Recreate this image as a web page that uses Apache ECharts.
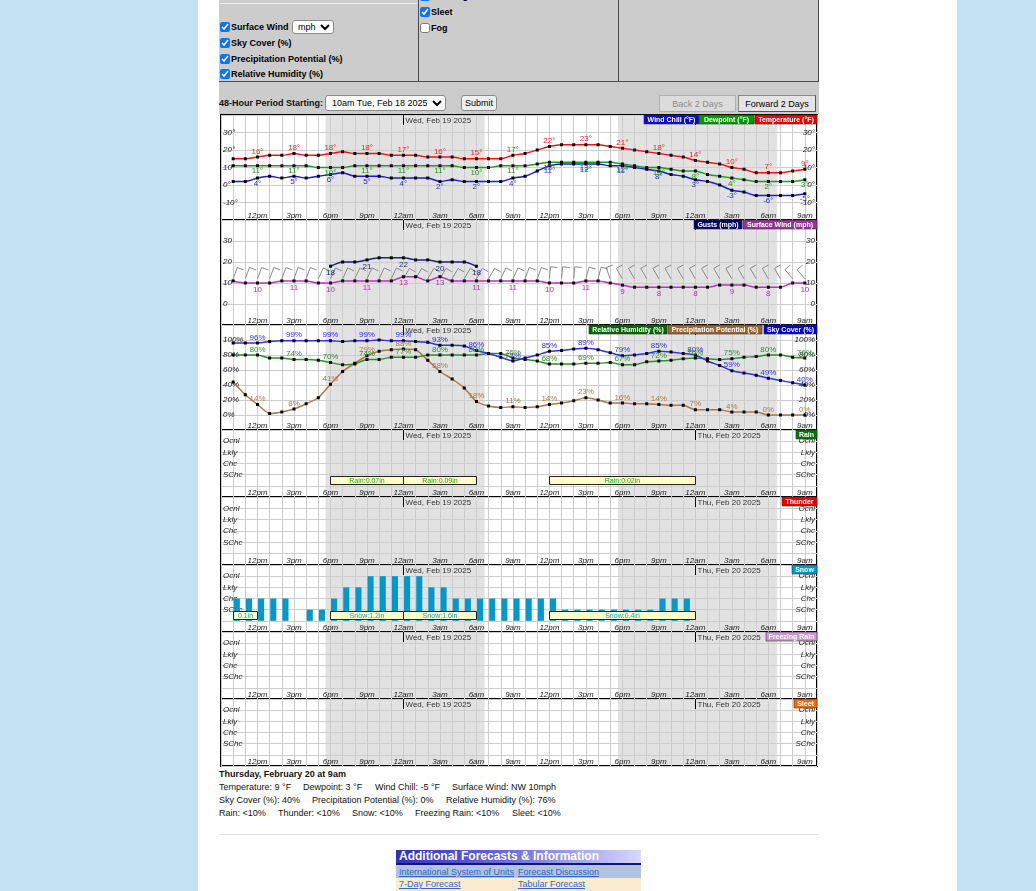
<!DOCTYPE html>
<html><head><meta charset="utf-8">
<script src="https://cdn.jsdelivr.net/npm/echarts/dist/echarts.min.js"></script>
<style>
html,body{margin:0;padding:0;}
body{width:1036px;height:891px;background:#c4e2f2;position:relative;overflow:hidden;font-family:"Liberation Sans",Arial,Helvetica,sans-serif;color:#000;}
.abs{position:absolute;}
.cb{position:absolute;height:12px;display:flex;align-items:center;font-weight:bold;font-size:9px;white-space:nowrap;}
.cb input{width:10px;height:10px;margin:0 1px 0 0;}
.t9{position:absolute;font-size:9px;line-height:12px;white-space:nowrap;color:#111;}
.lnk{position:absolute;font-size:9px;line-height:12px;color:#3366cc;text-decoration:underline;white-space:nowrap;}
.btn{position:absolute;box-sizing:border-box;font-size:9px;display:flex;align-items:center;justify-content:center;}
</style></head>
<body>
<div class="abs" style="left:198px;top:0;width:759px;height:891px;background:#fff"></div>
<!-- form area -->
<div class="abs" style="left:219px;top:0;width:600px;height:115px;background:#cccccc"></div>
<div class="abs" style="left:220px;top:3px;width:197px;height:1px;background:#eeeeee"></div>
<div class="abs" style="left:219px;top:81px;width:600px;height:1px;background:#4a4a4a"></div>
<div class="abs" style="left:418px;top:0;width:1px;height:81px;background:#4a4a4a"></div>
<div class="abs" style="left:618px;top:0;width:1px;height:81px;background:#4a4a4a"></div>
<div class="abs" style="left:818px;top:0;width:1px;height:82px;background:#4a4a4a"></div>

<label class="cb" style="left:420px;top:-10px"><input type="checkbox" checked><span>Freezing Rain</span></label>
<label class="cb" style="left:420px;top:6px"><input type="checkbox" checked><span>Sleet</span></label>
<label class="cb" style="left:420px;top:22px"><input type="checkbox"><span>Fog</span></label>

<label class="cb" style="left:220px;top:21px"><input type="checkbox" checked><span>Surface Wind</span></label>
<select class="abs" style="left:292px;top:20px;width:42px;height:14px;font-size:9px;padding:0 1px;border:1px solid #8a8a8a;border-radius:3px;background:#fff"><option>mph</option></select>
<label class="cb" style="left:220px;top:37px"><input type="checkbox" checked><span>Sky Cover (%)</span></label>
<label class="cb" style="left:220px;top:53px"><input type="checkbox" checked><span>Precipitation Potential (%)</span></label>
<label class="cb" style="left:220px;top:68px"><input type="checkbox" checked><span>Relative Humidity (%)</span></label>

<div class="t9" style="left:219px;top:97px;font-weight:bold">48-Hour Period Starting:</div>
<select class="abs" style="left:325px;top:95px;width:121px;height:16px;font-size:9px;padding:0 2px;border:1px solid #8a8a8a;border-radius:3px;background:#fff"><option>10am Tue, Feb 18 2025</option></select>
<div class="btn" style="left:461px;top:95px;width:36px;height:16px;border:1px solid #8a8a8a;border-radius:3px;background:#efefef">Submit</div>
<div class="btn" style="left:659px;top:95px;width:77px;height:17px;border:1px solid #b0b0b0;background:#dcdcdc;color:#8c8c8c">Back 2 Days</div>
<div class="btn" style="left:738px;top:95px;width:78px;height:17px;border:1px solid #8a8a8a;border-right-color:#555;border-bottom-color:#555;background:#e4e4e4;color:#000">Forward 2 Days</div>

<div id="chart" class="abs" style="left:218px;top:114px;width:602px;height:654px"></div>

<!-- bottom text -->
<div class="t9" style="left:219px;top:768px;font-weight:bold">Thursday, February 20 at 9am</div>
<div class="t9" style="left:219px;top:781px">Temperature: 9 °F</div>
<div class="t9" style="left:303px;top:781px">Dewpoint: 3 °F</div>
<div class="t9" style="left:375px;top:781px">Wind Chill: -5 °F</div>
<div class="t9" style="left:452px;top:781px">Surface Wind: NW 10mph</div>
<div class="t9" style="left:219px;top:794px">Sky Cover (%): 40%</div>
<div class="t9" style="left:312px;top:794px">Precipitation Potential (%): 0%</div>
<div class="t9" style="left:446px;top:794px">Relative Humidity (%): 76%</div>
<div class="t9" style="left:219px;top:807px">Rain: &lt;10%</div>
<div class="t9" style="left:278px;top:807px">Thunder: &lt;10%</div>
<div class="t9" style="left:352px;top:807px">Snow: &lt;10%</div>
<div class="t9" style="left:415px;top:807px">Freezing Rain: &lt;10%</div>
<div class="t9" style="left:512px;top:807px">Sleet: &lt;10%</div>
<div class="abs" style="left:219px;top:834px;width:600px;height:1px;background:#e2e2e2"></div>

<div class="abs" style="left:396px;top:850px;width:242px;height:13px;padding-left:3px;background:linear-gradient(to right,#3030b8 0%,#6a6ae0 45%,#d8d8ff 100%);color:#fff;font-weight:bold;font-size:12px;line-height:13px;white-space:nowrap">Additional Forecasts &amp; Information</div>
<div class="abs" style="left:396px;top:863px;width:245px;height:2px;background:#14147a"></div>
<div class="abs" style="left:396px;top:865px;width:245px;height:13px;background:#b0c4de"></div>
<div class="abs" style="left:396px;top:878px;width:245px;height:13px;background:#fdebd0"></div>
<div class="lnk" style="left:399px;top:866px">International System of Units</div>
<div class="lnk" style="left:518px;top:866px">Forecast Discussion</div>
<div class="lnk" style="left:399px;top:878px">7-Day Forecast</div>
<div class="lnk" style="left:518px;top:878px">Tabular Forecast</div>

<script>
const FONT = '"Liberation Sans", Arial, Helvetica, sans-serif';

// hour index 0 = 10am Tue Feb 18 2025, 48 hourly points
const xTickLabels = ['12pm','3pm','6pm','9pm','12am','3am','6am','9am','12pm','3pm','6pm','9pm','12am','3am','6am','9am'];
const dayMarkHours = [14, 38];
const dayMarkLabels = ['Wed, Feb 19 2025', 'Thu, Feb 20 2025'];
const nightStart = [7.6, 31.64];
const nightEnd = [20.68, 44.72];

const temperature = [15,15,16,17,17,18,17,17,18,19,18,18,18,17,17,17,16,16,16,15,15,15,15,17,
                     18,20,22,23,23,23,23,22,21,20,19,18,17,16,14,13,12,10,9,7,7,7,8,9];
const dewpoint    = [11,11,11,11,11,11,11,10,10,10,11,11,11,11,11,11,11,11,11,10,10,10,11,11,
                     11,12,13,13,13,13,13,13,12,11,10,10,9,8,8,6,5,4,3,2,2,2,2,3];
const windChill   = [2,2,4,5,4,5,4,5,6,7,5,5,5,4,4,4,4,2,3,2,2,2,2,4,
                     5,8,11,12,12,12,12,11,11,10,9,8,6,5,3,2,0,-3,-4,-6,-6,-6,-6,-5];

const surfaceWind = [11,10,10,10,11,11,11,10,10,11,11,11,11,11,13,13,11,13,11,11,11,11,11,11,
                     11,11,10,10,10,11,11,10,9,8,8,8,8,8,8,8,9,9,9,8,8,8,10,10];
const gustHours   = [8,9,10,11,12,13,14,15,16,17,18,19,20];
const windGust    = [18,20,20,21,22,22,22,21,21,20,20,20,18];
const windDir     = [20,20,20,20,20,20,20,25,25,25,25,25,25,25,30,30,30,30,30,30,30,30,25,25,
                     20,20,5,5,5,15,15,340,330,330,330,330,330,330,330,330,330,330,330,330,330,330,320,320];

const skyCover        = [96,96,96,98,99,99,99,99,99,98,99,99,100,99,99,98,97,93,93,92,86,82,77,72,
                         76,80,85,86,88,89,87,83,79,80,82,85,84,82,80,72,66,59,56,53,49,46,43,40];
const precipPotential = [44,27,14,2,4,8,15,23,41,58,69,79,85,87,88,87,73,58,48,36,18,12,10,11,
                         10,11,14,16,19,23,20,16,16,15,15,14,13,13,7,7,7,4,4,4,0,0,0,0];
const relHumidity     = [80,80,80,76,76,74,74,73,70,67,68,74,74,77,77,77,80,80,80,80,80,82,82,76,
                         74,72,68,68,68,69,69,70,67,67,71,72,73,75,76,75,74,75,77,78,80,80,77,76];

// 2 = SChc, 3 = Chc, 4 = Lkly, 5 = Ocnl ; 0 = no bar
const snowLevel = [3,3,3,3,3,0,2,2,3,4,4,5,5,5,5,5,4,4,3,3,3,3,3,3,
                   3,3,3,2,2,2,2,2,2,2,2,3,3,3,0,0,0,0,0,0,0,0,0,0];
const rainTotalFrom = [8,14,26], rainTotalTo = [14,20,38];
const rainTotalText = ['Rain:0.07in','Rain:0.09in','Rain:0.02in'];
const snowTotalFrom = [0,8,14,26], snowTotalTo = [2,14,20,38];
const snowTotalText = ['0.1in','Snow:1.2in','Snow:1.6in','Snow:0.4in'];

const tempTickValues = [-10,0,10,20,30], tempTickLabels = ['-10°','0°','10°','20°','30°'];
const windTickValues = [0,10,20,30], windTickLabels = ['0','10','20','30'];
const pctTickValues = [0,20,40,60,80,100], pctTickLabels = ['0%','20%','40%','60%','80%','100%'];
const levelTickValues = [2,3,4,5], levelTickLabels = ['SChc','Chc','Lkly','Ocnl'];

const panels = [
  {top:1,   height:105, min:-20, max:40,  interval:10, tv:tempTickValues,  tl:tempTickLabels},
  {top:106, height:105, min:-10, max:40,  interval:10, tv:windTickValues,  tl:windTickLabels},
  {top:211, height:105, min:-20, max:120, interval:20, tv:pctTickValues,   tl:pctTickLabels},
  {top:316, height:67,  min:0, max:6, interval:1, tv:levelTickValues, tl:levelTickLabels},
  {top:383, height:68,  min:0, max:6, interval:1, tv:levelTickValues, tl:levelTickLabels},
  {top:451, height:67,  min:0, max:6, interval:1, tv:levelTickValues, tl:levelTickLabels},
  {top:518, height:67,  min:0, max:6, interval:1, tv:levelTickValues, tl:levelTickLabels},
  {top:585, height:67,  min:0, max:6, interval:1, tv:levelTickValues, tl:levelTickLabels}
];

const GRID_COLOR = '#cdcdcd';
const grids = [], xAxes = [], yAxes = [], series = [];
panels.forEach((p, k) => {
  grids.push({left:1, width:599, top:p.top, height:p.height, show:true, borderColor:'#000', borderWidth:2, backgroundColor:'transparent'});
  xAxes.push({gridIndex:k, type:'value', min:-1, max:48, interval:1,
    axisLine:{show:false}, axisTick:{show:false},
    splitLine:{show:true, lineStyle:{color:GRID_COLOR, width:1}},
    axisLabel:{inside:true, margin:0, fontSize:8, fontStyle:'italic', color:'#222', fontFamily:FONT,
      formatter: v => (v >= 2 && (v - 2) % 3 === 0) ? (xTickLabels[(v - 2) / 3] || '') : ''}});
  const fmt = v => { const j = p.tv.indexOf(v); return j >= 0 ? p.tl[j] : ''; };
  const labelStyle = {inside:true, margin:2, fontSize:8, fontStyle:'italic', color:'#222', fontFamily:FONT, formatter:fmt};
  yAxes.push({gridIndex:k, type:'value', min:p.min, max:p.max, interval:p.interval, position:'left',
    axisLine:{show:false}, axisTick:{show:false},
    splitLine:{show:true, lineStyle:{color:GRID_COLOR, width:1}}, axisLabel:labelStyle});
  yAxes.push({gridIndex:k, type:'value', min:p.min, max:p.max, interval:p.interval, position:'right',
    axisLine:{show:false}, axisTick:{show:false}, splitLine:{show:false}, axisLabel:labelStyle});

  // night shading
  series.push({type:'custom', xAxisIndex:k, yAxisIndex:2*k, silent:true, z:-1,
    data: nightStart.map((s, j) => [s, nightEnd[j]]), encode:{x:[0,1]},
    renderItem:(params, api) => {
      const a = api.coord([api.value(0), p.min]), b = api.coord([api.value(1), p.min]);
      const cs = params.coordSys;
      return {type:'rect', shape:{x:a[0], y:cs.y, width:b[0]-a[0], height:cs.height}, style:{fill:'#e2e2e2'}};
    }});
  // day headers
  series.push({type:'custom', xAxisIndex:k, yAxisIndex:2*k, silent:true, z:4,
    data: dayMarkHours.map((h, j) => [h, j]), encode:{x:0},
    renderItem:(params, api) => {
      const a = api.coord([api.value(0), p.min]);
      const cs = params.coordSys;
      const x = Math.round(a[0]) + 0.5;
      return {type:'group', children:[
        {type:'line', shape:{x1:x, y1:cs.y, x2:x, y2:cs.y+10}, style:{stroke:'#000', lineWidth:1}},
        {type:'text', x:x+2, y:cs.y+5.5, style:{text:dayMarkLabels[api.value(1)], fill:'#333', font:'8px '+FONT, align:'left', verticalAlign:'middle'}}
      ]};
    }});
});

function lineSeries(k, hoursArr, values, color, labelPos, suffix, labelColor, dist) {
  return {type:'line', xAxisIndex:k, yAxisIndex:2*k, data: values.map((v, i) => [hoursArr ? hoursArr[i] : i, v]),
    smooth:0.2, symbol:'rect', symbolSize:3, showSymbol:true, silent:true, z:3,
    lineStyle:{color:color, width:1.5}, itemStyle:{color:'#000'},
    emphasis:{disabled:true},
    label:{show:true, position:labelPos, distance:dist, fontSize:8, fontFamily:FONT, color:labelColor || color,
      formatter: q => ((q.value[0] - 2) % 3 === 0) ? q.value[1] + suffix : ''}};
}

series.push(lineSeries(0, null, windChill, '#1a1ae0', 'bottom', '°', '#2a2aee', 0));
series.push(lineSeries(0, null, dewpoint, '#18a018', 'bottom', '°', '#10a010', 0));
series.push(lineSeries(0, null, temperature, '#ff1010', 'top', '°', '#ff2020', 0));

// wind barbs
const BARB_BASE = 12;
series.push({type:'custom', xAxisIndex:1, yAxisIndex:2, silent:true, z:2,
  data: windDir.map((d, i) => [i, d]), encode:{x:0},
  renderItem:(params, api) => {
    const i = api.value(0), d = api.value(1) * Math.PI / 180;
    const p = api.coord([i, BARB_BASE]);
    const L = 12, B = 7;
    const tip = [p[0] + L*Math.sin(d), p[1] - L*Math.cos(d)];
    const b = d + Math.PI/2;
    const end = [tip[0] + B*Math.sin(b), tip[1] - B*Math.cos(b)];
    return {type:'polyline', shape:{points:[p, tip, end]}, style:{stroke:'#8a8a8a', lineWidth:1, fill:null}};
  }});
series.push(lineSeries(1, gustHours, windGust, '#202080', 'bottom', '', '#202080', 1));
series.push(lineSeries(1, null, surfaceWind, '#bb33bb', 'bottom', '', '#b030b0', 1));

series.push(lineSeries(2, null, precipPotential, '#a87a4a', 'top', '%', '#a87a4a', 0));
series.push(lineSeries(2, null, relHumidity, '#2f8f2f', 'top', '%', '#2f8f2f', 0));
series.push(lineSeries(2, null, skyCover, '#3030ee', 'top', '%', '#3030ee', 0));

function boxSeries(k, from, to, texts, color) {
  return {type:'custom', xAxisIndex:k, yAxisIndex:2*k, silent:true, z:5,
    data: from.map((f, j) => [f, to[j], j]), encode:{x:[0,1]},
    renderItem:(params, api) => {
      const a = api.coord([api.value(0), 1]), b = api.coord([api.value(1), 1]);
      const x0 = Math.round(a[0]) + 0.5, x1 = Math.round(b[0]) + 0.5, y0 = Math.round(a[1]) - 9.5;
      return {type:'group', children:[
        {type:'rect', shape:{x:x0, y:y0, width:x1-x0, height:8}, style:{fill:'#ffffcc', stroke:'#222', lineWidth:1}},
        {type:'text', x:(x0+x1)/2, y:y0+4.5, style:{text:texts[api.value(2)], fill:color, font:'7px '+FONT, align:'center', verticalAlign:'middle'}}
      ]};
    }};
}
series.push(boxSeries(3, rainTotalFrom, rainTotalTo, rainTotalText, '#18a818'));

// snow bars
series.push({type:'custom', xAxisIndex:5, yAxisIndex:10, silent:true, z:3,
  data: snowLevel.map((v, i) => [i, v]).filter(d => d[1] > 0), encode:{x:0, y:1},
  renderItem:(params, api) => {
    const i = api.value(0), lv = api.value(1);
    const a = api.coord([i, lv]), b = api.coord([i + 0.5, 1]);
    return {type:'rect', shape:{x:a[0]+0.6, y:a[1], width:b[0]-a[0], height:b[1]-a[1]}, style:{fill:'#0099cc'}};
  }});
series.push(boxSeries(5, snowTotalFrom, snowTotalTo, snowTotalText, '#1a9ac8'));

// legend boxes drawn on top of each panel (layout only)
const legendDefs = [
  {panel:0, items:[['Wind Chill (°F)',426,55,'#0a0ac8'],['Dewpoint (°F)',481,55,'#009a00'],['Temperature (°F)',537,62,'#f00000']]},
  {panel:1, items:[['Gusts (mph)',476,48,'#000066'],['Surface Wind (mph)',525,74,'#993399']]},
  {panel:2, items:[['Relative Humidity (%)',371,78,'#006600'],['Precipitation Potential (%)',450,94,'#996633'],['Sky Cover (%)',546,53,'#0000cc']]},
  {panel:3, items:[['Rain',578,21,'#007700']]},
  {panel:4, items:[['Thunder',564,35,'#ee0000']]},
  {panel:5, items:[['Snow',574,25,'#0099cc']]},
  {panel:6, items:[['Freezing Rain',548,51,'#cc99cc']]},
  {panel:7, items:[['Sleet',576,23,'#ff6600']]}
];
const legendData = [];
legendDefs.forEach(d => d.items.forEach(it => legendData.push([d.panel, it[1], it[2], it[3], it[0]])));
series.push({type:'custom', xAxisIndex:0, yAxisIndex:0, silent:true, z:50, clip:false,
  data: legendData.map((d, j) => [0, 0, j]), encode:{x:0, y:1},
  renderItem:(params, api) => {
    const d = legendData[api.value(2)];
    const y = panels[d[0]].top;
    return {type:'group', children:[
      {type:'rect', shape:{x:d[1], y:y, width:d[2], height:9}, style:{fill:d[3], stroke:'#333', lineWidth:0.6}},
      {type:'text', x:d[1] + d[2]/2, y:y + 5, style:{text:d[4], fill:'#fff', font:'bold 7px '+FONT, align:'center', verticalAlign:'middle'}}
    ]};
  }});

const chart = echarts.init(document.getElementById('chart'));
chart.setOption({
  backgroundColor:'#fff', animation:false,
  grid:grids, xAxis:xAxes, yAxis:yAxes, series:series
});
</script>
</body></html>
